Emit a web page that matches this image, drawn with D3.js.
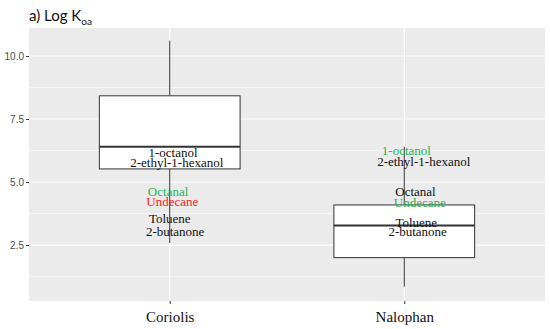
<!DOCTYPE html>
<html>
<head>
<meta charset="utf-8">
<script src="https://cdn.jsdelivr.net/npm/d3@7"></script>
<style>
	body { margin: 0; background: #fff; }
	svg { display: block; }
</style>
</head>
<body>
<svg id="chart0"></svg>
<script>
// dati
var categories = ['Coriolis', 'Nalophan'];
var box_lower_whisker = [2.58, 0.85];
var box_q1 = [5.52, 2.0];
var box_median = [6.40, 3.28];
var box_q3 = [8.42, 4.09];
var box_upper_whisker = [10.61, 6.40];

var y_ticks = [2.5, 5.0, 7.5, 10.0];
var y_minor = [1.25, 3.75, 6.25, 8.75];

// etichette dei composti: categoria, valore, spostamento orizzontale (unita' di categoria)
var label_names = ['1-octanol', '2-ethyl-1-hexanol', 'Octanal', 'Undecane', 'Toluene', '2-butanone',
					'1-octanol', '2-ethyl-1-hexanol', 'Octanal', 'Undecane', 'Toluene', '2-butanone'];
var label_cat = ['Coriolis', 'Coriolis', 'Coriolis', 'Coriolis', 'Coriolis', 'Coriolis',
					'Nalophan', 'Nalophan', 'Nalophan', 'Nalophan', 'Nalophan', 'Nalophan'];
var label_value = [6.19, 5.77, 4.62, 4.21, 3.55, 3.02,
					6.25, 5.81, 4.64, 4.17, 3.41, 3.04];
var label_shift = [0.014, 0.03, -0.007, 0.011, 0, 0.023,
					0.009, 0.083, 0.048, 0.066, 0.051, 0.057];
var label_group = ['n', 'n', 'g', 'r', 'n', 'n',
					'g', 'n', 'n', 'g', 'n', 'n'];

var group_colors = {'n': '#111111', 'g': '#1fb25a', 'r': '#ff1a1a'};

var width = 550;
var height = 329;
var margin = {'top': 28, 'bottom': 28, 'left': 29, 'right': 5};

var pw = width - margin.left - margin.right;
var ph = height - margin.top - margin.bottom;

// posizioni discrete come ggplot (espansione 0.6)
var x_conv = d3.scaleLinear()
	.domain([1 - 0.6, categories.length + 0.6])
	.range([0, pw]);

function x_cat(c) { return x_conv(categories.indexOf(c) + 1); }

var y_conv = d3.scaleLinear()
	.domain([0.28, 11.11])
	.range([ph, 0]);

var svg = d3.select('#chart0')
	.attr('width', width)
	.attr('height', height);

// titolo
var title = svg.append('text')
	.attr('x', 29)
	.attr('y', 21)
	.attr('font-family', 'Lato, "Open Sans", sans-serif')
	.attr('font-size', 15)
	.attr('fill', '#111');
title.append('tspan').text('a) Log K');
title.append('tspan').attr('font-size', 10).attr('dy', 4).text('oa');

var chart = svg.append('g')
	.attr('transform', 'translate(' + margin.left + ',' + margin.top + ')');

chart.append('rect')
	.attr('width', pw)
	.attr('height', ph)
	.attr('fill', '#EBEBEB');

// griglia
chart.selectAll('line.minor')
	.data(y_minor).enter()
	.append('line')
	.attr('x1', 0).attr('x2', pw)
	.attr('y1', function(d) { return y_conv(d); })
	.attr('y2', function(d) { return y_conv(d); })
	.attr('stroke', '#fff')
	.attr('stroke-width', 0.6);

chart.selectAll('line.major')
	.data(y_ticks).enter()
	.append('line')
	.attr('x1', 0).attr('x2', pw)
	.attr('y1', function(d) { return y_conv(d); })
	.attr('y2', function(d) { return y_conv(d); })
	.attr('stroke', '#fff')
	.attr('stroke-width', 1.2);

chart.selectAll('line.vmajor')
	.data(categories).enter()
	.append('line')
	.attr('x1', function(d) { return x_cat(d); })
	.attr('x2', function(d) { return x_cat(d); })
	.attr('y1', 0).attr('y2', ph)
	.attr('stroke', '#fff')
	.attr('stroke-width', 1.2);

// assi
var y_axis = d3.axisLeft(y_conv)
	.tickValues(y_ticks)
	.tickFormat(d3.format('.1f'))
	.tickSize(3)
	.tickPadding(2);

var gy = chart.append('g').call(y_axis);
gy.select('.domain').remove();
gy.selectAll('line').attr('stroke', '#333');
gy.selectAll('text')
	.attr('fill', '#4D4D4D')
	.attr('font-family', 'Arial, "Liberation Sans", sans-serif')
	.attr('font-size', 10);

var x_axis = d3.axisBottom(x_conv)
	.tickValues([1, 2])
	.tickFormat(function(d) { return categories[d - 1]; })
	.tickSize(3)
	.tickPadding(7);

var gx = chart.append('g')
	.attr('transform', 'translate(0,' + ph + ')')
	.call(x_axis);
gx.select('.domain').remove();
gx.selectAll('line').attr('stroke', '#333');
gx.selectAll('text')
	.attr('fill', '#111')
	.attr('font-family', '"Liberation Serif", "Times New Roman", serif')
	.attr('font-size', 15);

// box plot
var box_half = 0.3;
var boxes = categories.map(function(c, i) {
	return {'cat': c, 'lo': box_lower_whisker[i], 'q1': box_q1[i], 'med': box_median[i],
			'q3': box_q3[i], 'hi': box_upper_whisker[i], 'i': i + 1};
});

var gb = chart.selectAll('g.box')
	.data(boxes).enter()
	.append('g');

gb.append('line')
	.attr('x1', function(d) { return x_conv(d.i); })
	.attr('x2', function(d) { return x_conv(d.i); })
	.attr('y1', function(d) { return y_conv(d.hi); })
	.attr('y2', function(d) { return y_conv(d.q3); })
	.attr('stroke', '#333').attr('stroke-width', 1);

gb.append('line')
	.attr('x1', function(d) { return x_conv(d.i); })
	.attr('x2', function(d) { return x_conv(d.i); })
	.attr('y1', function(d) { return y_conv(d.q1); })
	.attr('y2', function(d) { return y_conv(d.lo); })
	.attr('stroke', '#333').attr('stroke-width', 1);

gb.append('rect')
	.attr('x', function(d) { return x_conv(d.i - box_half); })
	.attr('y', function(d) { return y_conv(d.q3); })
	.attr('width', function(d) { return x_conv(d.i + box_half) - x_conv(d.i - box_half); })
	.attr('height', function(d) { return y_conv(d.q1) - y_conv(d.q3); })
	.attr('fill', '#fff')
	.attr('stroke', '#333')
	.attr('stroke-width', 1);

gb.append('line')
	.attr('x1', function(d) { return x_conv(d.i - box_half); })
	.attr('x2', function(d) { return x_conv(d.i + box_half); })
	.attr('y1', function(d) { return y_conv(d.med); })
	.attr('y2', function(d) { return y_conv(d.med); })
	.attr('stroke', '#333').attr('stroke-width', 2);

// etichette dei composti
chart.selectAll('text.lab')
	.data(label_names).enter()
	.append('text')
	.attr('x', function(d, i) {
		return x_conv(categories.indexOf(label_cat[i]) + 1 + label_shift[i]);
	})
	.attr('y', function(d, i) { return y_conv(label_value[i]); })
	.attr('dy', '0.35em')
	.attr('text-anchor', 'middle')
	.attr('font-family', '"Liberation Serif", "Times New Roman", serif')
	.attr('font-size', 13)
	.attr('fill', function(d, i) { return group_colors[label_group[i]]; })
	.text(function(d) { return d; });
</script>
</body>
</html>
